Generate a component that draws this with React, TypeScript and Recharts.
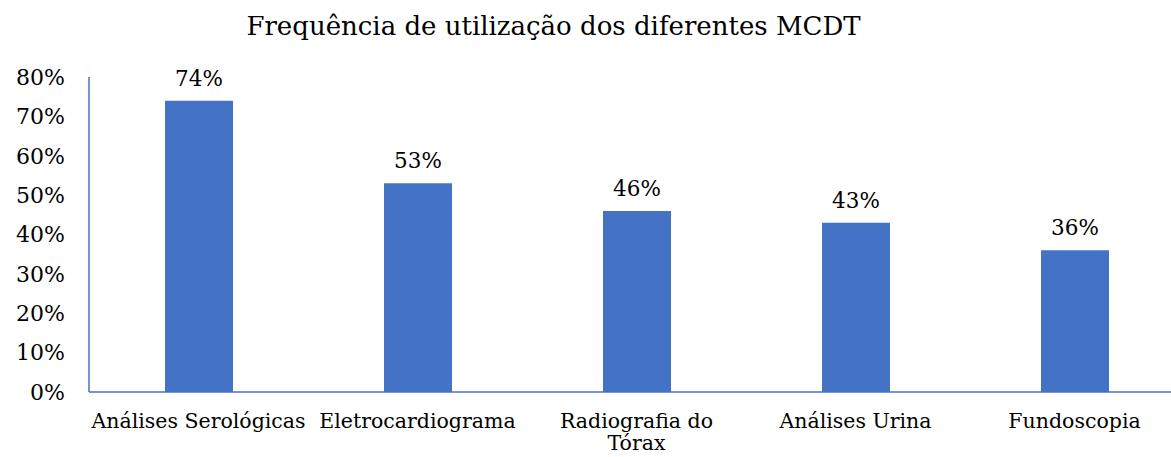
import { BarChart, Bar, XAxis, YAxis, LabelList } from 'recharts';

const categories = [
  'Análises Serológicas',
  'Eletrocardiograma',
  'Radiografia do\nTórax',
  'Análises Urina',
  'Fundoscopia',
];
const percentages = [74, 53, 46, 43, 36];
const yTicks = [0, 10, 20, 30, 40, 50, 60, 70, 80];

const BLUE = '#4472C4';
const FONT = '"DejaVu Serif", serif';

const chartData = categories.map((name, i) => ({ name, value: percentages[i] }));

function CategoryTick({ x, y, payload }: any) {
  const lines = String(payload.value).split('\n');
  return (
    <text x={x} y={y} textAnchor="middle" fontFamily={FONT} fontSize={20.5} fill="#000">
      {lines.map((line, i) => (
        <tspan key={i} x={x} dy={i === 0 ? 14 : 22}>
          {line}
        </tspan>
      ))}
    </text>
  );
}

export default function App() {
  return (
    <div
      style={{
        position: 'absolute',
        left: 0,
        top: 0,
        width: 1171,
        height: 457,
        overflow: 'hidden',
        background: '#fff',
      }}
    >
      <div
        style={{
          position: 'absolute',
          left: 0,
          width: 1107,
          top: 11,
          textAlign: 'center',
          fontFamily: FONT,
          fontSize: 26,
          lineHeight: '30px',
          color: '#000',
        }}
      >
        Frequência de utilização dos diferentes MCDT
      </div>
      <BarChart
        width={1184}
        height={457}
        data={chartData}
        margin={{ top: 77, right: 0, bottom: 0, left: 0 }}
      >
        <XAxis
          dataKey="name"
          height={65}
          tickLine={false}
          tickSize={0}
          tickMargin={22}
          interval={0}
          axisLine={{ stroke: BLUE, strokeWidth: 1.5 }}
          tick={<CategoryTick />}
        />
        <YAxis
          width={89}
          domain={[0, 80]}
          ticks={yTicks}
          tickLine={false}
          tickSize={0}
          tickMargin={24}
          axisLine={{ stroke: BLUE, strokeWidth: 1.5 }}
          tickFormatter={(v) => `${v}%`}
          tick={{ fontFamily: FONT, fontSize: 22, fill: '#000' }}
        />
        <Bar dataKey="value" fill={BLUE} barSize={68} isAnimationActive={false}>
          <LabelList
            dataKey="value"
            position="top"
            offset={15}
            formatter={(v: any) => `${v}%`}
            style={{ fontFamily: FONT, fontSize: 21.5, fill: '#000' }}
          />
        </Bar>
      </BarChart>
    </div>
  );
}
